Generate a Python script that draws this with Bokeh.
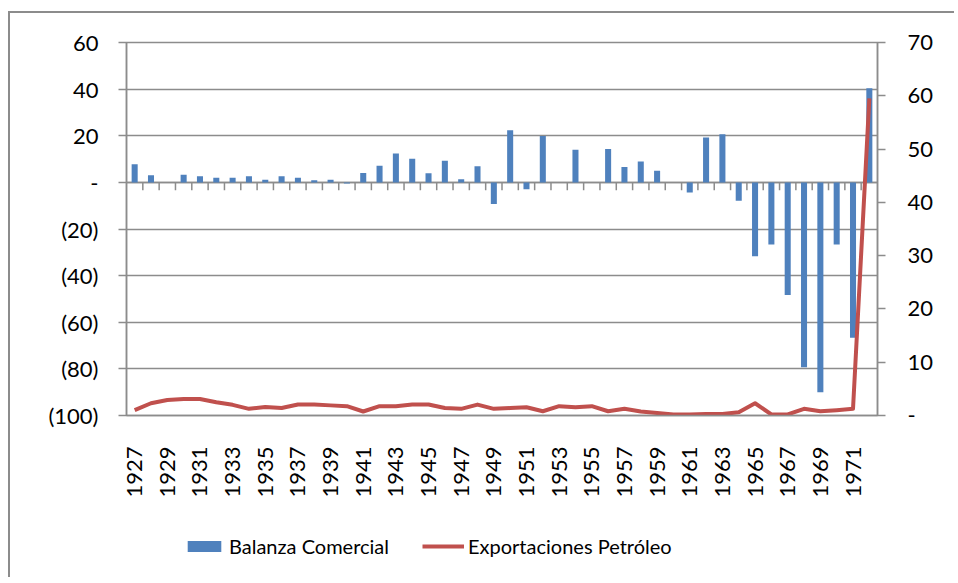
from math import pi
from bokeh.plotting import figure
from bokeh.layouts import column
from bokeh.models import (Range1d, LinearAxis, FixedTicker, Legend, LegendItem,
                          ColumnDataSource, CDSView, IndexFilter)
from bokeh.embed import file_html
from bokeh.resources import INLINE

years = [1927, 1928, 1929, 1930, 1931, 1932, 1933, 1934, 1935, 1936,
         1937, 1938, 1939, 1940, 1941, 1942, 1943, 1944, 1945, 1946,
         1947, 1948, 1949, 1950, 1951, 1952, 1953, 1954, 1955, 1956,
         1957, 1958, 1959, 1960, 1961, 1962, 1963, 1964, 1965, 1966,
         1967, 1968, 1969, 1970, 1971, 1972]

balanza = [7.8, 3.1, 0.0, 3.3, 2.6, 2.0, 2.0, 2.6, 1.1, 2.6,
           2.0, 0.9, 1.1, -0.5, 4.0, 7.1, 12.4, 10.1, 3.9, 9.3,
           1.3, 6.9, -9.3, 22.4, -2.9, 19.9, 0.0, 14.0, 0.0, 14.3,
           6.6, 9.0, 5.0, 0.0, -4.3, 19.3, 20.6, -7.9, -31.7, -26.7,
           -48.3, -79.3, -90.0, -26.7, -66.7, 40.4]

petroleo = [1.0, 2.3, 2.9, 3.1, 3.1, 2.5, 2.0, 1.25, 1.6, 1.4,
            2.05, 2.05, 1.9, 1.75, 0.75, 1.75, 1.75, 2.05, 2.05, 1.4,
            1.25, 2.05, 1.25, 1.4, 1.55, 0.8, 1.75, 1.55, 1.75, 0.8,
            1.25, 0.75, 0.45, 0.2, 0.2, 0.3, 0.3, 0.6, 2.3, 0.2,
            0.2, 1.25, 0.8, 1.0, 1.25, 59.5]

series_names = ["Balanza Comercial", "Exportaciones Petróleo"]
left_ticks = [-100, -80, -60, -40, -20, 0, 20, 40, 60]
left_labels = ["(100)", "(80)", "(60)", "(40)", "(20)", "-", "20", "40", "60"]
right_ticks = [0, 10, 20, 30, 40, 50, 60, 70]
right_labels = ["-", "10", "20", "30", "40", "50", "60", "70"]
x_label_years = [1927, 1929, 1931, 1933, 1935, 1937, 1939, 1941, 1943, 1945,
                 1947, 1949, 1951, 1953, 1955, 1957, 1959, 1961, 1963, 1965,
                 1967, 1969, 1971]

BLUE = "#4F81BD"
RED = "#C0504D"
GRAY = "#8C8C8C"
FONT = "Lato"
BORDER = "2px solid #8C8C8C"

src = ColumnDataSource(dict(year=years, bal=balanza, pet=petroleo))

p = figure(width=946, height=510, output_backend="svg", toolbar_location=None,
           x_range=Range1d(years[0] - 0.5, years[-1] + 0.5),
           y_range=Range1d(left_ticks[0], left_ticks[-1]),
           min_border_left=116, min_border_right=79, min_border_top=29,
           min_border_bottom=108)
p.margin = (11, 0, 0, 8)
p.styles = {"border-left": BORDER, "border-top": BORDER}
p.extra_y_ranges = {"petro": Range1d(right_ticks[0], right_ticks[-1])}
p.outline_line_color = GRAY
p.outline_line_width = 1.5
p.background_fill_color = "white"
p.border_fill_color = "white"

# grid
p.xgrid.visible = False
p.ygrid.ticker = FixedTicker(ticks=left_ticks)
p.ygrid.grid_line_color = GRAY
p.ygrid.grid_line_width = 1.5

# left axis
ya = p.yaxis[0]
ya.ticker = FixedTicker(ticks=left_ticks)
ya.major_label_overrides = {t: l for t, l in zip(left_ticks, left_labels)}
ya.axis_line_color = GRAY
ya.axis_line_width = 1.5
ya.major_tick_line_color = GRAY
ya.major_tick_line_width = 1.5
ya.major_tick_out = 8
ya.major_tick_in = 0
ya.minor_tick_line_color = None
ya.major_label_text_font = FONT
ya.major_label_text_font_size = "22px"
ya.major_label_text_color = "black"
ya.major_label_standoff = 20

# right axis
ra = LinearAxis(y_range_name="petro", ticker=FixedTicker(ticks=right_ticks))
ra.major_label_overrides = {t: l for t, l in zip(right_ticks, right_labels)}
ra.axis_line_color = GRAY
ra.axis_line_width = 1.5
ra.major_tick_line_color = GRAY
ra.major_tick_line_width = 1.5
ra.major_tick_out = 8
ra.major_tick_in = 0
ra.minor_tick_line_color = None
ra.major_label_text_font = FONT
ra.major_label_text_font_size = "22px"
ra.major_label_text_color = "black"
ra.major_label_standoff = 22
p.add_layout(ra, "right")

# bottom axis
xa = p.xaxis[0]
xa.ticker = FixedTicker(ticks=x_label_years)
xa.major_label_overrides = {y: str(y) for y in x_label_years}
xa.major_label_orientation = pi / 2
xa.axis_line_color = GRAY
xa.axis_line_width = 1.5
xa.major_tick_line_color = None
xa.minor_tick_line_color = None
xa.major_label_text_font = FONT
xa.major_label_text_font_size = "22px"
xa.major_label_text_color = "black"
xa.major_label_standoff = 25

# zero line with category tick marks
p.segment(x0=[years[0] - 0.5], y0=[0], x1=[years[-1] + 0.5], y1=[0],
          line_color=GRAY, line_width=1.5)
bounds = [y + 0.5 for y in years[:-1]]
p.segment(x0=bounds, y0=[0] * len(bounds), x1=bounds, y1=[-3.4] * len(bounds),
          line_color=GRAY, line_width=1.5)

p.vbar(x="year", top="bal", bottom=0, width=0.37, source=src,
       fill_color=BLUE, line_color=None)
p.line(x="year", y="pet", source=src, y_range_name="petro",
       line_color=RED, line_width=4, line_join="round")

# legend strip below the chart; its renderers keep one row that lies outside its view
leg_fig = figure(width=946, height=56, output_backend="svg", toolbar_location=None,
                 x_range=Range1d(years[0] - 0.5, years[-1] + 0.5),
                 y_range=Range1d(200, 201),
                 x_axis_location=None, y_axis_location=None,
                 min_border_left=0, min_border_right=0, min_border_top=0,
                 min_border_bottom=0)
leg_fig.margin = (0, 0, 0, 8)
leg_fig.styles = {"border-left": BORDER}
leg_fig.outline_line_color = None
leg_fig.xgrid.visible = False
leg_fig.ygrid.visible = False
one_row = CDSView(filter=IndexFilter(indices=[0]))
r_bar = leg_fig.vbar(x="year", top="bal", bottom=0, width=0.37, source=src,
                     view=one_row, fill_color=BLUE, line_color=None)
r_line = leg_fig.line(x="year", y="pet", source=src, view=one_row,
                      line_color=RED, line_width=4)

legend = Legend(items=[LegendItem(label=series_names[0], renderers=[r_bar]),
                       LegendItem(label=series_names[1], renderers=[r_line])],
                orientation="horizontal", location=(57, 19),
                glyph_width=42, glyph_height=14, label_standoff=4, spacing=33,
                label_text_font=FONT, label_text_font_size="20px",
                label_text_color="black", padding=0, margin=0,
                border_line_color=None, background_fill_alpha=0)
leg_fig.add_layout(legend, "center")

layout = column(p, leg_fig, spacing=0)

open("out.html", "w").write(file_html(layout, INLINE))
